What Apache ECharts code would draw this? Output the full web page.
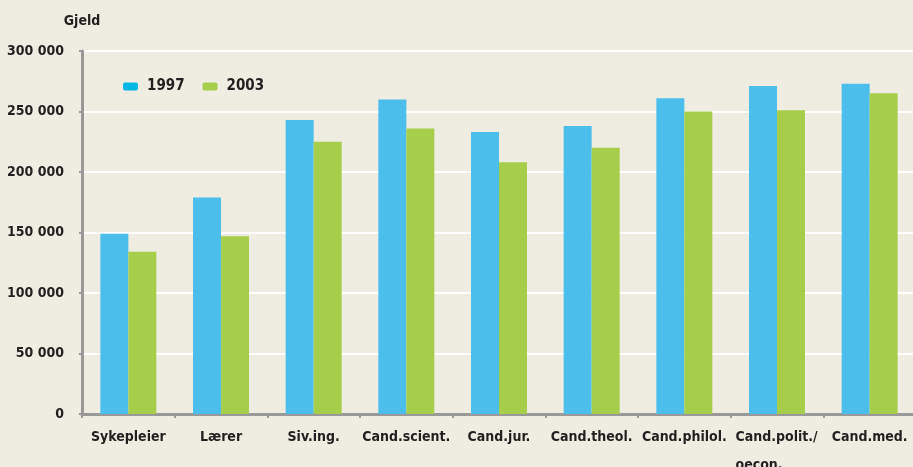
<!DOCTYPE html>
<html>
<head>
<meta charset="utf-8">
<script src="https://cdn.jsdelivr.net/npm/echarts@6/dist/echarts.min.js"></script>
<style>
html,body{margin:0;padding:0;background:#EFECE1;}
#chart{width:913px;height:467px;}
</style>
</head>
<body>
<div id="chart"></div>
<script>
var categories = ['Sykepleier', 'Lærer', 'Siv.ing.', 'Cand.scient.', 'Cand.jur.', 'Cand.theol.', 'Cand.philol.', 'Cand.polit./\noecon.', 'Cand.med.'];
var values1997 = [149000, 179000, 243000, 260000, 233000, 238000, 261000, 271000, 273000];
var values2003 = [134000, 147000, 225000, 236000, 208000, 220000, 250000, 251000, 265000];
var seriesNames = ['1997', '2003'];
var yTicks = [0, 50000, 100000, 150000, 200000, 250000, 300000];
var yAxisTitle = 'Gjeld';

var FONT = '"Liberation Sans Narrow", "DejaVu Sans Condensed", sans-serif';
var TXT = '#231F20';
var FS = 14;

function fmt(v) {
  return String(v).replace(/\B(?=(\d{3})+(?!\d))/g, ' ');
}

function measure(s) {
  var c = document.createElement('canvas').getContext('2d');
  c.font = 'bold ' + FS + 'px ' + FONT;
  return Math.ceil(c.measureText(s).width);
}

function xLabel(v) {
  if (v.indexOf('\n') < 0) return v;
  var lines = v.split('\n');
  return lines.map(function (l) { return '{l|' + l + '}'; }).join('\n');
}

var multi = categories.filter(function (c) { return c.indexOf('\n') >= 0; });
var blockW = 0;
multi.forEach(function (c) { c.split('\n').forEach(function (l) { blockW = Math.max(blockW, measure(l)); }); });

var chart = echarts.init(document.getElementById('chart'), null, {renderer: 'canvas'});
chart.setOption({
  backgroundColor: '#EFECE1',
  animation: false,
  grid: {left: 82, right: -3, top: 51, bottom: 53, containLabel: false, outerBoundsMode: 'none'},
  legend: {
    left: 118, top: 74,
    itemWidth: 15, itemHeight: 8, itemGap: 18,
    data: [
      {name: seriesNames[0], itemStyle: {color: '#00B8E4'}},
      {name: seriesNames[1], itemStyle: {color: '#A6CE4B'}}
    ],
    textStyle: {fontFamily: FONT, fontWeight: 'bold', fontSize: 15, color: TXT, padding: [0, 0, 0, 4]}
  },
  xAxis: {
    type: 'category',
    data: categories,
    axisLine: {lineStyle: {color: '#999999', width: 3}},
    axisTick: {show: true, length: 4, lineStyle: {color: '#999999', width: 2}},
    axisLabel: {
      fontFamily: FONT, fontWeight: 'bold', fontSize: FS, color: TXT, margin: 9, lineHeight: 28, interval: 0,
      formatter: xLabel,
      rich: {l: {fontFamily: FONT, fontWeight: 'bold', fontSize: FS, color: TXT, lineHeight: 28, width: blockW, align: 'left'}}
    }
  },
  yAxis: {
    type: 'value',
    min: yTicks[0], max: yTicks[yTicks.length - 1], interval: yTicks[1] - yTicks[0],
    name: yAxisTitle,
    nameLocation: 'end',
    nameGap: 23,
    nameTextStyle: {fontFamily: FONT, fontWeight: 'bold', fontSize: FS, color: TXT},
    axisLine: {show: true, lineStyle: {color: '#999999', width: 3}},
    axisTick: {show: true, length: 3, lineStyle: {color: '#999999', width: 2}},
    axisLabel: {fontFamily: FONT, fontWeight: 'bold', fontSize: FS, color: TXT, margin: 18, formatter: fmt},
    splitLine: {show: true, lineStyle: {color: '#FFFFFF', width: 2}}
  },
  series: [
    {name: seriesNames[0], type: 'bar', data: values1997, barWidth: 28, barGap: '0%', itemStyle: {color: '#4BBEEC'}},
    {name: seriesNames[1], type: 'bar', data: values2003, barWidth: 28, barGap: '0%', itemStyle: {color: '#A6CE4B'}}
  ]
});
</script>
</body>
</html>
